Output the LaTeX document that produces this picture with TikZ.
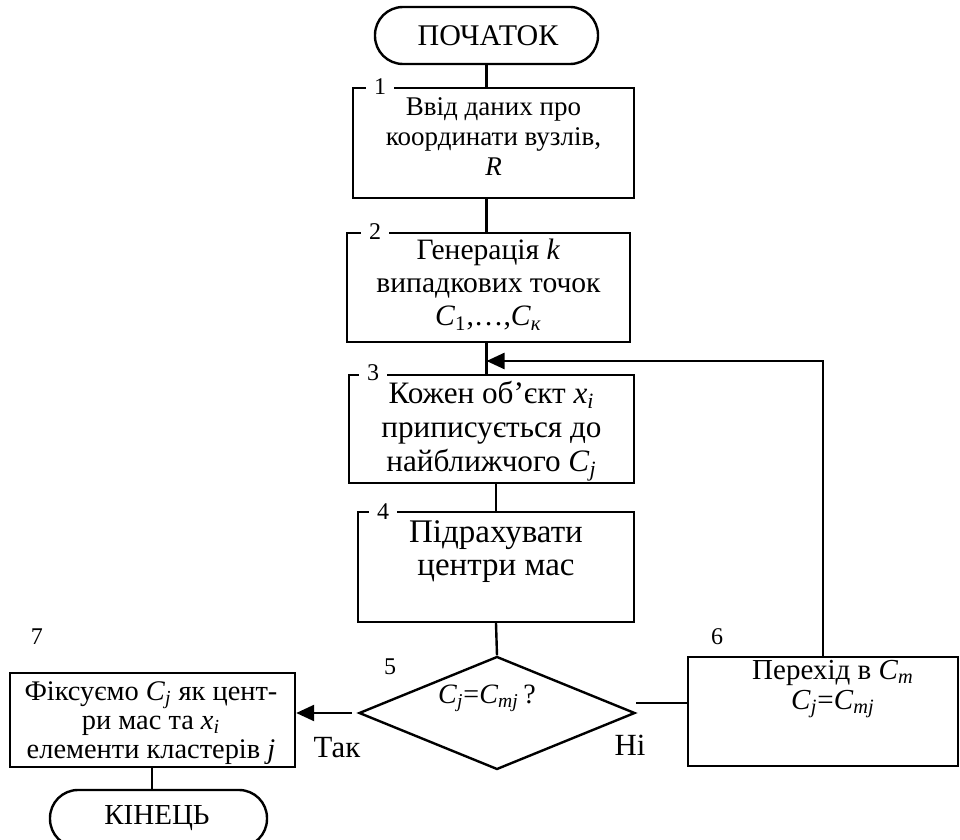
\documentclass[tikz,border=0pt]{standalone}
\usepackage{fontspec}
\setmainfont{Liberation Serif}
\usetikzlibrary{shapes.geometric,arrows.meta,positioning}
\newcommand{\ix}[2]{\textit{#1}\textsubscript{\textit{#2}}}
\tikzset{
    procbox/.style={draw, line width=1.2pt, rectangle, inner sep=0pt},
    term/.style={draw, line width=1.2pt, rectangle, rounded corners=14pt,
        inner sep=0pt, minimum height=28.5pt},
    decide/.style={draw, line width=1.2pt, diamond, inner sep=0pt},
    numlbl/.style={font=\fontsize{12}{14}\selectfont, inner ysep=1pt, inner xsep=4pt},
    txt/.style={align=center, inner sep=0pt},
    flow/.style={line width=1.2pt},
    arr/.style={line width=1.2pt, -{Triangle[length=9pt,width=8pt]}}
}

\begin{document}
\begin{tikzpicture}[x=0.5pt, y=-0.5pt]
    \useasboundingbox (0,0) rectangle (960,840);
    \clip (0,0) rectangle (960,840);

    % Terminals
    \node[term, minimum width=111.5pt] (start) at (486.5,35.5) {};
    \node[txt, font=\fontsize{15}{17}\selectfont] (tstart) at (488,36) {ПОЧАТОК};
    \node[term, minimum width=108.5pt] (stop) at (158.5,818.5) {};
    \node[txt, font=\fontsize{14.5}{17}\selectfont] (tstop) at (157,818) {КІНЕЦЬ};

    % Main column
    \node[procbox, minimum width=140.5pt, minimum height=55pt] (b1) at (493.5,143) {};
    \node[txt, font=\fontsize{13.5}{15}\selectfont] (t1) at (493.5,137)
        {Ввід даних про\\координати вузлів,\\\textit{R}};
    \node[procbox, minimum width=141.5pt, minimum height=54.5pt] (b2) at (488.5,287.5) {};
    \node[txt, font=\fontsize{14.8}{16.5}\selectfont] (t2) at (488.5,285)
        {Генерація \textit{k}\\випадкових точок\\\textit{C}\textsubscript{1},…,\ix{C}{к}};
    \node[procbox, minimum width=142.5pt, minimum height=54pt] (b3) at (491.5,429) {};
    \node[txt, font=\fontsize{15.6}{17}\selectfont] (t3) at (491.5,431)
        {Кожен об’єкт \ix{x}{i}\\приписується до\\найближчого \ix{C}{j}};
    \node[procbox, minimum width=138pt, minimum height=55pt] (b4) at (496,567) {};
    \node[txt, font=\fontsize{16.5}{16.5}\selectfont] (t4) at (496,552)
        {Підрахувати\\центри мас};

    % Decision
    \node[decide, minimum width=138pt, minimum height=56.5pt] (dec) at (497,713) {};
    \node[txt, font=\fontsize{14}{16}\selectfont] (tdec) at (487,698)
        {\ix{C}{j}=\ix{C}{mj}\,?};
    \node[txt, font=\fontsize{15.4}{17}\selectfont] (yes) at (337,748) {Так};
    \node[txt, font=\fontsize{15.4}{17}\selectfont] (no) at (630,745) {Ні};

    % Side boxes
    \node[procbox, minimum width=135pt, minimum height=54.5pt] (b6) at (823,711.5) {};
    \node[txt, font=\fontsize{14.5}{15}\selectfont] (t6) at (833,689)
        {Перехід в \ix{C}{m}\\\ix{C}{j}=\ix{C}{mj}};
    \node[procbox, minimum width=142.5pt, minimum height=47pt] (b7) at (152.5,720) {};
    \node[txt, font=\fontsize{14.2}{14.6}\selectfont] (t7) at (151,723)
        {Фіксуємо \ix{C}{j} як цент-\\ри мас та \ix{x}{i}\\елементи кластерів \textit{j}};

    % Block numbers
    \node[numlbl, fill=white] (n1) at (380,87) {1};
    \node[numlbl, fill=white] (n2) at (375,232) {2};
    \node[numlbl, fill=white] (n3) at (373,373) {3};
    \node[numlbl, fill=white] (n4) at (383,512) {4};
    \node[numlbl] (n5) at (390,667) {5};
    \node[numlbl] (n6) at (717,637) {6};
    \node[numlbl] (n7) at (37,637) {7};

    % Connectors
    \coordinate (back) at (486.5,361);
    \draw[flow] (start.south) -- (start.south |- b1.north);
    \draw[flow] (b1.south -| start) -- (b2.north -| start);
    \draw[flow] (b2.south -| start) -- (b3.north -| start);
    \draw[flow] (b3.south -| b4) -- (b4.north);
    \draw[flow] (b4.south) -- (dec.north);
    \draw[arr, shorten <=3pt] (dec.west) -- (dec.west -| b7.east);
    \draw[flow] ([yshift=5pt]dec.east) -- ([yshift=5pt]dec.east -| b6.west);
    \draw[arr] (b6.north) |- (back);
    \draw[flow] (b7.south -| 152,0) -- (stop.north -| 152,0);
\end{tikzpicture}
\end{document}
